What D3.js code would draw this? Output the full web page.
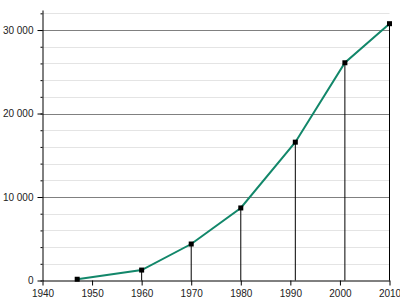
<!DOCTYPE html>
<html lang="fr">
<head>
    <meta charset="UTF-8">
    <title>Population</title>
    <script src="https://d3js.org/d3.v7.min.js"></script>
    <style>
        body { margin: 0; background: #fff; }
        svg text { font-family: "Liberation Sans", Arial, sans-serif; font-size: 10px; fill: #222; }
    </style>
</head>
<body>
    <svg id="chart" width="400" height="300"></svg>
    <script>
        // census years and population
        const years = [1947, 1960, 1970, 1980, 1991, 2001, 2010];
        const population = [150, 1250, 4370, 8690, 16570, 26080, 30760];
        const xTicks = [1940, 1950, 1960, 1970, 1980, 1990, 2000, 2010];
        const yMajorTicks = [0, 10000, 20000, 30000];
        const yMinorTicks = d3.range(0, 32001, 2000);

        const data = years.map((y, i) => ({ year: y, value: population[i] }));

        const svg = d3.select('#chart');
        const x = d3.scaleLinear().domain([1940, 2010]).range([42.5, 389.5]);
        const y = d3.scaleLinear().domain([0, 32400]).range([280.5, 10]);

        const fr = d3.formatLocale({ decimal: ',', thousands: '\u00a0', grouping: [3], currency: ['', ''] });
        const fmt = fr.format(',d');

        // minor gridlines
        svg.append('g').selectAll('line')
            .data(yMinorTicks.filter(d => d % 10000 !== 0))
            .enter().append('line')
            .attr('x1', x(1940)).attr('x2', x(2010))
            .attr('y1', d => Math.round(y(d)) + 0.5).attr('y2', d => Math.round(y(d)) + 0.5)
            .attr('stroke', '#e4e4e4').attr('stroke-width', 1);

        // major gridlines
        svg.append('g').selectAll('line')
            .data(yMajorTicks.filter(d => d > 0))
            .enter().append('line')
            .attr('x1', x(1940)).attr('x2', x(2010))
            .attr('y1', d => Math.round(y(d)) + 0.5).attr('y2', d => Math.round(y(d)) + 0.5)
            .attr('stroke', '#808080').attr('stroke-width', 1);

        // drop lines from each point to the axis
        svg.append('g').selectAll('line')
            .data(data)
            .enter().append('line')
            .attr('x1', d => x(d.year)).attr('x2', d => x(d.year))
            .attr('y1', d => y(d.value)).attr('y2', y(0))
            .attr('stroke', '#000').attr('stroke-width', 1);

        // y axis minor ticks
        svg.append('g')
            .attr('transform', `translate(${x(1940)},0)`)
            .call(d3.axisLeft(y).tickValues(yMinorTicks).tickSize(2).tickSizeOuter(0).tickFormat(''))
            .call(g => g.select('.domain').remove())
            .call(g => g.selectAll('line').attr('stroke', '#000'));

        // y axis major
        svg.append('g')
            .attr('transform', `translate(${x(1940)},0)`)
            .call(d3.axisLeft(y).tickValues(yMajorTicks).tickSize(5).tickSizeOuter(0).tickPadding(4).tickFormat(fmt))
            .call(g => g.select('.domain').attr('stroke', '#000'))
            .call(g => g.selectAll('line').attr('stroke', '#000'))
            .call(g => g.selectAll('text').attr('fill', '#222').style('font-family', null).style('font-size', null).attr('font-family', null).attr('font-size', null));

        // x axis
        svg.append('g')
            .attr('transform', `translate(0,${y(0)})`)
            .call(d3.axisBottom(x).tickValues(xTicks).tickSize(5).tickSizeOuter(0).tickPadding(4).tickFormat(d3.format('d')))
            .call(g => g.select('.domain').attr('stroke', '#000'))
            .call(g => g.selectAll('line').attr('stroke', '#000'))
            .call(g => g.selectAll('text').attr('fill', '#222').attr('font-family', null).attr('font-size', null));

        // population line
        const line = d3.line().x(d => x(d.year)).y(d => y(d.value));
        svg.append('path')
            .datum(data)
            .attr('fill', 'none')
            .attr('stroke', '#12876a')
            .attr('stroke-width', 2)
            .attr('d', line);

        // point markers
        svg.append('g').selectAll('rect')
            .data(data)
            .enter().append('rect')
            .attr('x', d => x(d.year) - 2.5).attr('y', d => y(d.value) - 2.5)
            .attr('width', 5).attr('height', 5)
            .attr('fill', '#000');
    </script>
</body>
</html>
